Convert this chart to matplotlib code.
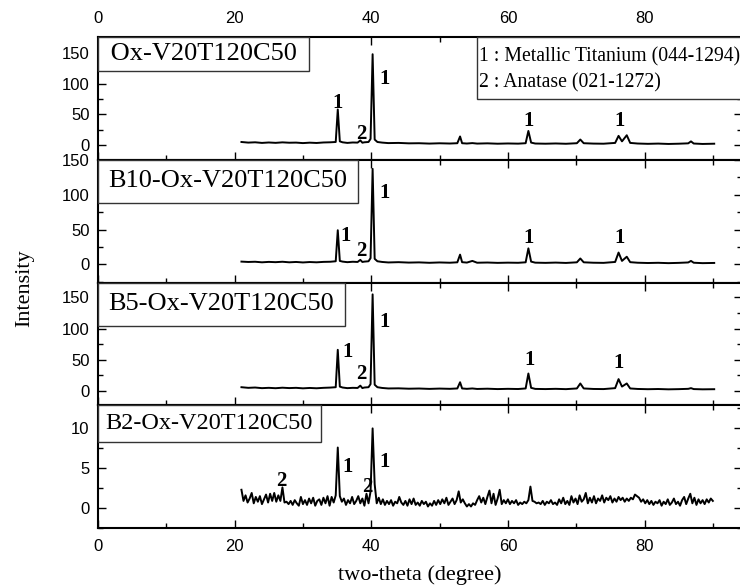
import numpy as np
import matplotlib
matplotlib.use('Agg')
import matplotlib.pyplot as plt
from matplotlib.offsetbox import AnchoredText
from matplotlib.patches import Rectangle
from matplotlib.ticker import MultipleLocator

plt.rcParams['font.family'] = 'Liberation Sans'
SERIF = 'Liberation Serif'

# 2-theta knots shared by the three strong patterns
tt = [21.0, 22.0, 23.0, 24.0, 25.0, 26.0, 27.0, 28.0, 29.0, 30.0,
      31.0, 32.0, 33.0, 34.0, 34.8, 35.1, 35.4, 35.8, 36.5, 37.3,
      38.0, 38.4, 38.7, 39.0, 39.6, 39.9, 40.2, 40.5, 40.9, 41.6,
      42.5, 44.0, 45.5, 47.0, 48.5, 50.0, 51.5, 52.6, 53.0, 53.3,
      54.0, 54.8, 55.5, 57.0, 58.5, 60.0, 61.5, 62.6, 63.0, 63.4,
      64.0, 65.5, 67.0, 68.5, 70.1, 70.6, 71.1, 72.5, 74.0, 75.7,
      76.2, 76.7, 77.4, 77.9, 79.0, 80.5, 82.0, 83.5, 85.0, 86.4,
      86.8, 87.2, 88.5, 90.2]

ox = [5.0, 4.0, 4.5, 3.5, 4.2, 3.6, 4.4, 3.8, 4.0, 3.2,
      3.9, 3.4, 4.2, 4.5, 5.0, 58.0, 6.0, 4.5, 3.5, 4.2,
      4.0, 7.5, 3.8, 4.5, 5.0, 10.0, 148.0, 9.0, 5.0, 4.0,
      3.2, 3.5, 2.8, 3.0, 2.4, 2.9, 2.5, 3.0, 14.0, 3.0,
      2.5, 3.2, 2.4, 2.8, 2.2, 2.6, 2.3, 3.0, 23.0, 4.0,
      2.5, 2.2, 2.6, 2.1, 3.0, 9.0, 3.0, 2.4, 2.2, 3.5,
      15.0, 6.0, 16.0, 3.5, 2.5, 2.0, 2.4, 1.8, 2.2, 2.8,
      6.0, 2.5, 1.8, 2.2]

b10 = [4.0, 3.5, 3.8, 3.0, 3.6, 3.2, 3.8, 3.0, 3.5, 2.8,
       3.4, 3.0, 3.6, 3.8, 4.5, 49.0, 5.0, 4.0, 3.2, 3.8,
       3.5, 6.5, 3.5, 4.0, 4.5, 9.0, 137.0, 8.0, 4.5, 3.5,
       2.8, 3.2, 2.6, 2.9, 2.3, 2.8, 2.4, 3.0, 14.0, 3.2,
       2.6, 5.0, 2.4, 2.7, 2.2, 2.5, 2.3, 3.0, 23.0, 4.0,
       2.5, 2.2, 2.6, 2.1, 3.0, 8.5, 3.0, 2.4, 2.2, 3.5,
       17.0, 5.0, 11.0, 3.2, 2.4, 2.0, 2.3, 1.8, 2.2, 2.8,
       5.0, 2.4, 1.8, 2.1]

b5 = [6.0, 5.0, 5.5, 4.5, 5.0, 4.4, 5.2, 4.6, 5.0, 4.2,
      4.8, 4.3, 5.0, 5.4, 6.0, 66.0, 7.0, 5.5, 4.5, 5.0,
      4.8, 8.5, 4.6, 5.5, 6.0, 11.0, 155.0, 10.0, 6.0, 4.8,
      4.0, 4.2, 3.6, 3.9, 3.3, 3.8, 3.4, 4.0, 14.0, 4.0,
      3.4, 4.0, 3.2, 3.6, 3.0, 3.4, 3.1, 4.0, 28.0, 5.0,
      3.3, 3.0, 3.4, 2.9, 4.0, 12.0, 4.0, 3.2, 3.0, 4.5,
      19.0, 7.0, 12.0, 4.0, 3.2, 2.8, 3.1, 2.6, 2.9, 3.4,
      4.5, 3.0, 2.6, 2.8]

# weak, noisy B2 pattern: 21.0 .. 90.0 deg, step 0.3
b2_start, b2_step = 21.0, 0.3
b2 = [2.3, 0.9, 1.6, 0.7, 1.2, 1.9, 0.6, 1.4, 0.8, 1.5,
      0.5, 1.1, 1.7, 0.7, 1.8, 0.9, 1.9, 0.8, 1.6, 0.9,
      2.6, 0.7, 0.8, 0.5, 0.9, 0.4, 1.0, 0.6, 0.3, 1.4,
      0.5, 1.0, 0.4, 1.2, 0.6, 1.3, 0.3, 0.9, 1.1, 0.4,
      1.3, 0.6, 1.5, 0.3, 1.4, 0.7, 1.6, 7.6, 1.5, 0.8,
      1.2, 0.4, 1.0, 0.6, 1.4, 0.5, 0.9, 1.5, 0.6, 1.2,
      0.3, 1.8, 0.6, 2.1, 10.0, 3.0, 0.6, 1.3, 0.5, 1.1,
      0.4, 0.9, 0.5, 1.0, 0.3, 0.8, 0.6, 1.4, 0.7, 0.4,
      0.9, 0.3, 1.1, 0.5, 1.2, 0.4, 0.7, 0.3, 0.9, 0.5,
      0.8, 0.2, 0.6, 0.3, 0.9, 0.4, 1.0, 0.5, 1.1, 0.6,
      1.3, 0.4, 0.8, 1.2, 0.5, 1.0, 2.1, 0.7, 1.1, 0.6,
      0.2, 0.5, 0.2, 0.6, 0.4, 1.0, 1.5, 0.7, 1.3, 0.5,
      1.4, 2.2, 0.6, 1.8, 0.4, 1.2, 2.3, 0.5, 1.0, 0.6,
      1.1, 0.5, 0.9, 0.6, 1.0, 0.4, 0.7, 0.5, 0.8, 0.6,
      1.0, 2.7, 0.9, 0.8, 0.6, 0.7, 0.5, 0.9, 0.4, 0.8,
      0.6, 1.0, 0.5, 0.7, 0.4, 1.1, 0.6, 1.3, 0.5, 0.9,
      0.4, 1.5, 0.7, 1.2, 0.5, 1.6, 0.8, 1.1, 1.9, 0.6,
      1.3, 0.7, 1.5, 0.6, 1.2, 0.9, 1.6, 0.7, 1.3, 1.0,
      1.5, 0.7, 1.2, 0.8, 1.4, 1.0, 1.3, 0.8, 1.2, 0.9,
      1.3, 1.1, 1.7, 1.5, 1.3, 0.8, 1.1, 0.6, 1.0, 0.5,
      0.9, 0.4, 0.8, 0.6, 1.0, 0.3, 0.8, 0.5, 1.1, 0.4,
      0.7, 1.2, 0.5, 0.8, 0.3, 1.0, 1.4, 0.5, 1.2, 1.8,
      0.6, 1.3, 0.4, 1.1, 0.6, 1.0, 0.5, 1.1, 0.7, 1.2,
      0.9]
tt_b2 = b2_start + b2_step * np.arange(len(b2))

names = [' Ox-V20T120C50 ', 'B10-Ox-V20T120C50', 'B5-Ox-V20T120C50', 'B2-Ox-V20T120C50']
box_pads = [0.22, 0.4, 0.4, 0.32]
box_sizes = [19, 19, 19, 17.5]
ylims = [(-24, 176), (-26, 150), (-23, 174), (-2.5, 12.9)]

# peak markers (x, y, text) per panel
marks = [
    [(35.1, 68, '1'), (38.5, 18, '2'), (42.0, 107, '1'), (63.0, 40, '1'), (76.4, 40, '1')],
    [(36.3, 41, '1'), (38.6, 19, '2'), (42.0, 102, '1'), (63.0, 38, '1'), (76.3, 38, '1')],
    [(36.6, 62, '1'), (38.6, 28, '2'), (41.9, 111, '1'), (63.1, 50, '1'), (76.2, 45, '1')],
    [(26.9, 3.4, '2'), (36.6, 5.1, '1'), (39.4, 2.7, '2'), (42.0, 5.8, '1')],
]

fig, axes = plt.subplots(4, 1, figsize=(7.4, 5.88), dpi=100, sharex=True)
plt.subplots_adjust(left=0.1324, right=1.003, top=0.937, bottom=0.102, hspace=0)

data = [(tt, ox), (tt, b10), (tt, b5), (tt_b2, b2)]

for i, ax in enumerate(axes):
    x, y = data[i]
    ax.plot(x, y, color='black', lw=1.4)
    ax.set_xlim(0, 94.3)
    ax.set_ylim(*ylims[i])
    ax.xaxis.set_major_locator(MultipleLocator(20))
    ax.xaxis.set_minor_locator(MultipleLocator(10))
    if i < 3:
        ax.yaxis.set_major_locator(MultipleLocator(50))
        ax.yaxis.set_minor_locator(MultipleLocator(25))
    else:
        ax.yaxis.set_major_locator(MultipleLocator(5))
        ax.yaxis.set_minor_locator(MultipleLocator(2.5))
    ax.tick_params(which='both', direction='in', top=True, right=True, labelsize=12)
    ax.tick_params(which='major', length=6, width=1)
    ax.tick_params(which='minor', length=3.5, width=1)
    ax.tick_params(axis='x', which='major', pad=8, labeltop=(i == 0), labelbottom=(i == 3))
    ax.tick_params(axis='y', which='major', pad=6)
    for s in ax.spines.values():
        s.set_linewidth(1.5)

    at = AnchoredText(names[i], loc='upper left', pad=box_pads[i], borderpad=0,
                      prop=dict(size=box_sizes[i], family=SERIF))
    at.patch.set_linewidth(1.0)
    at.patch.set_edgecolor('#333333')
    ax.add_artist(at)

    for mx, my, mt in marks[i]:
        ax.text(mx, my, mt, ha='center', va='center', fontsize=15,
                fontweight='bold', family=SERIF)

axes[3].set_xlabel('two-theta (degree)', fontsize=16, family=SERIF, labelpad=8)
fig.text(0.034, 0.51, 'Intensity', rotation=90, ha='center', va='center',
         fontsize=16, family=SERIF)

# phase key box, top right
fig.patches.append(Rectangle((477 / 740, 1 - 99 / 588), 0.4, 62 / 588,
                             transform=fig.transFigure, facecolor='white',
                             edgecolor='#333333', lw=1.0))
fig.text(479 / 740, 1 - 57 / 588, '1 : Metallic Titanium (044-1294)',
         ha='left', va='center', fontsize=14.2, family=SERIF)
fig.text(479 / 740, 1 - 83 / 588, '2 : Anatase (021-1272)',
         ha='left', va='center', fontsize=14.2, family=SERIF)

fig.savefig('out.png', dpi=100)
